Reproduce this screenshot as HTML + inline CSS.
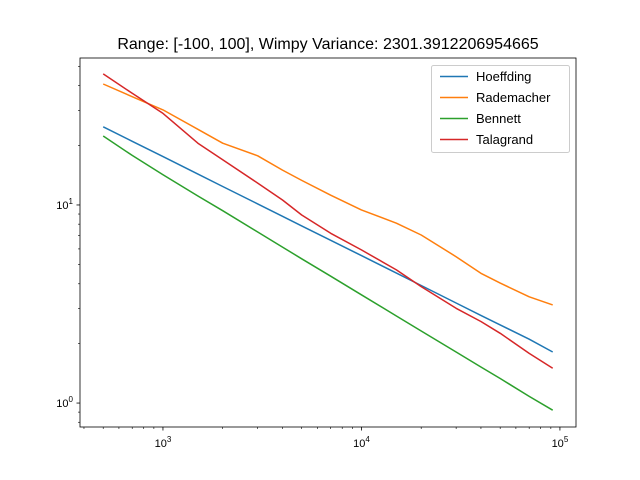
<!DOCTYPE html>
<html><head><meta charset="utf-8"><style>body{margin:0;background:#fff}svg{display:block;font-family:"Liberation Sans","DejaVu Sans",sans-serif}</style></head>
<body>
<svg id="chart" width="640" height="480"></svg>
<script>
const nValues=[500,700,1000,1500,2000,3000,4000,5000,7000,10000,15000,20000,30000,40000,50000,70000,92000];
const hoeffding=[24.8,20.96,17.54,14.32,12.4,10.12,8.77,7.84,6.63,5.55,4.53,3.92,3.20,2.77,2.48,2.10,1.81];
const rademacher=[40.8,35.2,30.2,24.1,20.5,17.7,15.0,13.3,11.2,9.44,8.09,7.05,5.48,4.52,4.03,3.44,3.13];
const bennett=[22.3,17.8,14.2,11.1,9.35,7.3,6.13,5.35,4.37,3.52,2.75,2.31,1.81,1.52,1.33,1.08,0.92];
const talagrand=[45.9,36.6,29.0,20.5,16.9,12.9,10.6,8.9,7.19,5.93,4.70,3.87,3.01,2.58,2.25,1.78,1.50];
const seriesNames=["Hoeffding","Rademacher","Bennett","Talagrand"];
const xTickExps=[3,4,5];
const yTickExps=[0,1];
const NS="http://www.w3.org/2000/svg";
const svg=document.getElementById('chart');
const L=80,R=576,T=58,B=427;
const xmin=Math.log10(382),xmax=Math.log10(120500),ymin=Math.log10(0.757),ymax=Math.log10(55.2);
const X=v=>L+(Math.log10(v)-xmin)/(xmax-xmin)*(R-L);
const Y=v=>B-(Math.log10(v)-ymin)/(ymax-ymin)*(B-T);
function mk(t,a,txt){const e=document.createElementNS(NS,t);for(const k in a)e.setAttribute(k,a[k]);if(txt!=null)e.textContent=txt;svg.appendChild(e);return e;}
let e=mk('text',{x:328,y:49,'text-anchor':'middle','font-size':16},'Range: [-100, 100], Wimpy Variance: 2301.3912206954665');


for(let ex=2;ex<=5;ex++){for(let m=1;m<10;m++){const v=m*Math.pow(10,ex);const lv=Math.log10(v);if(lv<xmin||lv>xmax)continue;const x=X(v);
e=mk('line',{x1:x,x2:x,y1:B,y2:B+(m==1?3.5:2),stroke:'#000','stroke-width':m==1?0.8:0.6});

}}
xTickExps.forEach(ex=>{const t=mk('text',{x:X(Math.pow(10,ex)),y:B+20,'text-anchor':'middle','font-size':11});t.innerHTML='10<tspan dy="-5" font-size="8">'+ex+'</tspan>';

});
for(let ex=-1;ex<=1;ex++){for(let m=1;m<10;m++){const v=m*Math.pow(10,ex);const lv=Math.log10(v);if(lv<ymin||lv>ymax)continue;const y=Y(v);
e=mk('line',{x1:L-(m==1?3.5:2),x2:L,y1:y,y2:y,stroke:'#000','stroke-width':m==1?0.8:0.6});

}}
yTickExps.forEach(ex=>{const t=mk('text',{x:L-7,y:Y(Math.pow(10,ex))+4,'text-anchor':'end','font-size':11});t.innerHTML='10<tspan dy="-5" font-size="8">'+ex+'</tspan>';

});
const colors=['#1f77b4','#ff7f0e','#2ca02c','#d62728'];
[hoeffding,rademacher,bennett,talagrand].forEach((s,i)=>{const p=s.map((v,j)=>X(nValues[j]).toFixed(1)+','+Y(v).toFixed(1)).join(' ');
const l=mk('polyline',{points:p,fill:'none',stroke:colors[i],'stroke-width':1.5,'stroke-linejoin':'round'});

});
e=mk('rect',{x:L,y:T,width:R-L,height:B-T,fill:'none',stroke:'#000','stroke-width':0.8});


const lg=mk('rect',{x:431.5,y:65.5,width:138,height:87,rx:2,fill:'#fff',stroke:'#ccc','fill-opacity':0.8});


seriesNames.forEach((n,i)=>{const y=76.5+i*21;
const ln=mk('line',{x1:440,x2:468,y1:y,y2:y,stroke:colors[i],'stroke-width':1.5});


const t=mk('text',{x:476,y:y+4.5,'font-size':13},n);

});
</script>
</body></html>
